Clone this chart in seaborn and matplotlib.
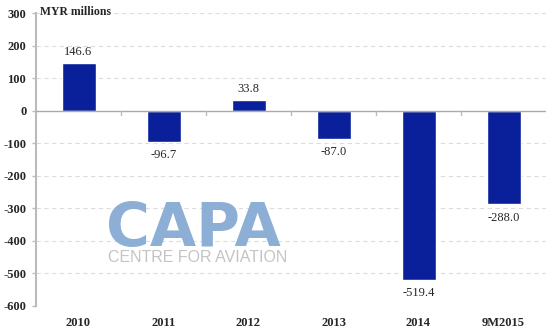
import matplotlib
matplotlib.use("Agg")
import matplotlib.pyplot as plt
import seaborn as sns
import pandas as pd
import numpy as np

categories = ["2010", "2011", "2012", "2013", "2014", "9M2015"]
values = [146.6, -96.7, 33.8, -87.0, -519.4, -288.0]
labels = ["146.6", "-96.7", "33.8", "-87.0", "-519.4", "-288.0"]
yticks = [300, 200, 100, 0, -100, -200, -300, -400, -500, -600]

sns.set_theme(style="white")
plt.rcParams['font.family'] = ['Liberation Serif', 'DejaVu Serif']

df = pd.DataFrame({"cat": categories, "val": values})

fig = plt.figure(figsize=(5.55, 3.32), dpi=100)
ax = fig.add_axes([36/555, 1 - 306/332, 510/555, (306-13)/332])

# watermark (behind everything)
fig.text(106/555, 1 - 246/332, "CAPA", fontsize=43, fontweight='bold',
         family='DejaVu Sans', color='#8DAFD6', ha='left', va='baseline', zorder=0)
fig.text(108/555, 1 - 262/332, "CENTRE FOR AVIATION", fontsize=11.5,
         family='Liberation Sans', color='#C4C4C4', ha='left', va='baseline', zorder=0)
ax.patch.set_alpha(0)

sns.barplot(data=df, x="cat", y="val", color="#0A209B", width=0.4,
            saturation=1, ax=ax, zorder=3)

ax.set_ylim(-600, 300)
ax.set_xlim(-0.5, 5.5)
ax.set_yticks(yticks)
ax.set_yticklabels([str(t) for t in yticks], fontsize=9, fontweight='bold')
ax.set_xticks(range(len(categories)))
ax.set_xticklabels(categories, fontsize=9, fontweight='bold')
ax.tick_params(axis='x', length=0, pad=8)
ax.tick_params(axis='y', length=3, color='#BBBBBB', width=1, pad=4, left=True)
ax.set_xlabel("")
ax.set_ylabel("")

for t in yticks:
    if t != 0:
        ax.axhline(t, color='#DDDDDD', linestyle=(0, (4, 3)), linewidth=0.8, zorder=1)
ax.axhline(0, color='#AAAAAA', linewidth=1.0, zorder=4)
for b in np.arange(0.5, 5.5, 1.0):
    ax.plot([b, b], [0, -12], color='#BBBBBB', linewidth=1.0, zorder=4, clip_on=False)

for s in ['top', 'right', 'bottom']:
    ax.spines[s].set_visible(False)
ax.spines['left'].set_color('#BBBBBB')
ax.spines['left'].set_linewidth(1.5)

for i, (v, lab) in enumerate(zip(values, labels)):
    if v >= 0:
        ax.text(i, v + 14, lab, ha='center', va='bottom', fontsize=9, zorder=5)
    else:
        ax.text(i, v - 22, lab, ha='center', va='top', fontsize=9, zorder=5)

fig.text(40/555, 1 - 12/332, "MYR millions", fontsize=8.5, fontweight='bold',
         ha='left', va='center')

fig.savefig("out.png", dpi=100)
